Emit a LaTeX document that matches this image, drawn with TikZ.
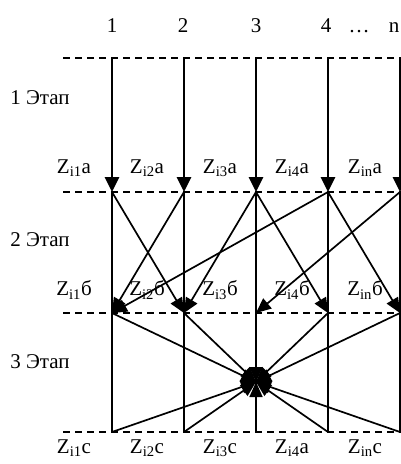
\documentclass[tikz,border=0pt]{standalone}
\usepackage{fontspec}
\setmainfont{Liberation Serif}
\usetikzlibrary{arrows.meta}

\begin{document}
\begin{tikzpicture}[x=1pt, y=-1pt, every node/.style={font=\fontsize{21}{25}\selectfont},
  level/.style={dash pattern=on 7pt off 5pt, line width=1.3pt},
  feed/.style={-{Triangle[length=15pt,width=14pt]}, line width=2.8pt},
  link/.style={-{Triangle[length=15pt,width=13pt]}, line width=1.7pt},
  rail/.style={line width=1.7pt},
  colnum/.style={anchor=base}]
\useasboundingbox (0,0) rectangle (401,464);

% points on the four levels
\coordinate (a1) at (112,58);  \coordinate (a2) at (184,58);  \coordinate (a3) at (256,58);  \coordinate (a4) at (328,58);  \coordinate (a5) at (400,58);
\coordinate (b1) at (112,192); \coordinate (b2) at (184,192); \coordinate (b3) at (256,192); \coordinate (b4) at (328,192); \coordinate (b5) at (400,192);
\coordinate (c1) at (112,313); \coordinate (c2) at (184,313); \coordinate (c3) at (256,313); \coordinate (c4) at (328,313); \coordinate (c5) at (400,313);
\coordinate (d1) at (112,432); \coordinate (d2) at (184,432); \coordinate (d3) at (256,432); \coordinate (d4) at (328,432); \coordinate (d5) at (400,432);
\coordinate (mid) at (256,382);
\coordinate (la) at (63,58);  \coordinate (ra) at (401,58);
\coordinate (lb) at (63,192); \coordinate (rb) at (401,192);
\coordinate (lc) at (63,313); \coordinate (rc) at (401,313);
\coordinate (ld) at (63,432); \coordinate (rd) at (401,432);

% dashed levels
\draw[level] (la) -- (ra);
\draw[level] (lb) -- (rb);
\draw[level] (lc) -- (rc);
\draw[level] (ld) -- (rd);

% labels
\node[colnum] (n1) at (112,32) {1};
\node[colnum] (n2) at (183,32) {2};
\node[colnum] (n3) at (256,32) {3};
\node[colnum] (n4) at (326,32) {4};
\node[colnum] (ndots) at (359,32) {\ldots};
\node[colnum] (nn) at (394,32) {n};
\node (st1) at (40,98) {1 Этап};
\node (st2) at (40,240) {2 Этап};
\node (st3) at (40,362) {3 Этап};
\node (za1) at (74,168) {Z\textsubscript{i1}а};
\node (za2) at (147,168) {Z\textsubscript{i2}а};
\node (za3) at (220,168) {Z\textsubscript{i3}а};
\node (za4) at (292,168) {Z\textsubscript{i4}а};
\node (za5) at (365,168) {Z\textsubscript{in}а};
\node (zb1) at (74,290) {Z\textsubscript{i1}б};
\node (zb2) at (147,290) {Z\textsubscript{i2}б};
\node (zb3) at (220,290) {Z\textsubscript{i3}б};
\node (zb4) at (292,290) {Z\textsubscript{i4}б};
\node (zb5) at (365,290) {Z\textsubscript{in}б};
\node (zc1) at (74,448) {Z\textsubscript{i1}с};
\node (zc2) at (147,448) {Z\textsubscript{i2}с};
\node (zc3) at (220,448) {Z\textsubscript{i3}с};
\node (zc4) at (292,448) {Z\textsubscript{i4}a};
\node (zc5) at (365,448) {Z\textsubscript{in}с};

% 1 Этап
\draw[feed] (a1) -- (b1);
\draw[feed] (a2) -- (b2);
\draw[feed] (a3) -- (b3);
\draw[feed] (a4) -- (b4);
\draw[feed] (a5) -- (b5);

% columns down to the last level
\draw[rail] (b1) -- (d1);
\draw[rail] (b2) -- (d2);
\draw[rail] (b3) -- (d3);
\draw[rail] (b4) -- (d4);
\draw[rail] (b5) -- (d5);

% 2 Этап
\draw[link] (b1) -- (c2);
\draw[link] (b2) -- (c1);
\draw[link] (b3) -- (c2);
\draw[link] (b3) -- (c4);
\draw[link] (b4) -- (c1);
\draw[link] (b4) -- (c5);
\draw[link] (b5) -- (c3);

% 3 Этап
\draw[link] (c1) -- (mid);
\draw[link] (c2) -- (mid);
\draw[link] (c3) -- (mid);
\draw[link] (c4) -- (mid);
\draw[link] (c5) -- (mid);
\draw[link] (d1) -- (mid);
\draw[link] (d2) -- (mid);
\draw[link] (d3) -- (mid);
\draw[link] (d4) -- (mid);
\draw[link] (d5) -- (mid);
\end{tikzpicture}
\end{document}
